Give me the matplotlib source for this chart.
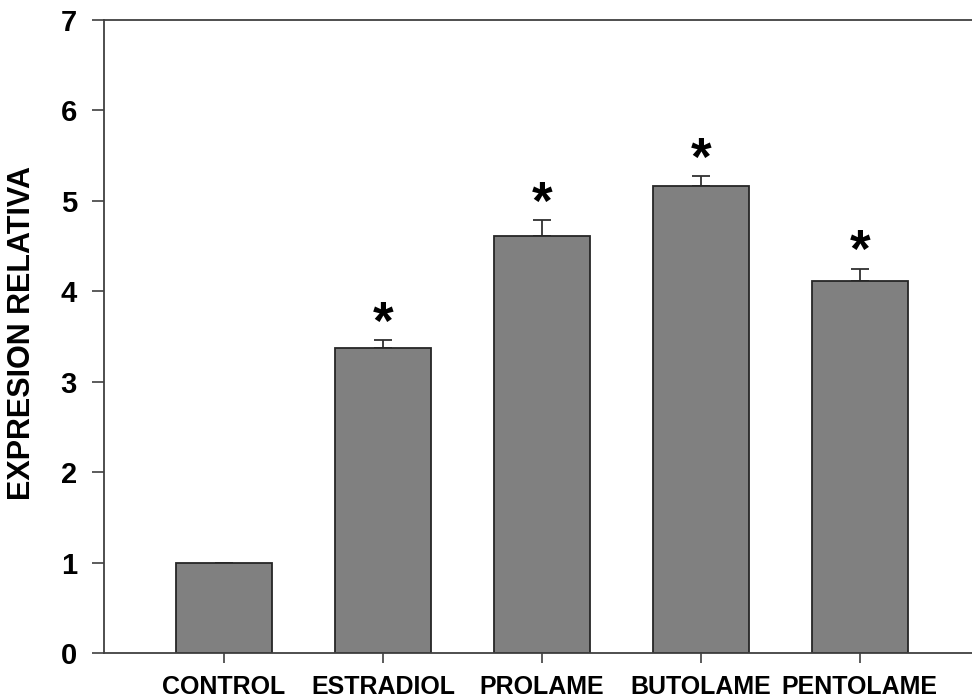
import matplotlib
matplotlib.use("Agg")
import matplotlib.pyplot as plt
import numpy as np

categories = ["CONTROL", "ESTRADIOL", "PROLAME", "BUTOLAME", "PENTOLAME"]
expression = [1.0, 3.37, 4.61, 5.16, 4.11]
sem = [0.0, 0.09, 0.18, 0.11, 0.14]
significant = [False, True, True, True, True]
y_ticks = [0, 1, 2, 3, 4, 5, 6, 7]

plt.rcParams["font.family"] = ["Liberation Sans", "DejaVu Sans"]
plt.rcParams["font.weight"] = "bold"

fig = plt.figure(figsize=(9.72, 7.0), dpi=100)
ax = fig.add_axes([0.107, 0.0671, 0.901, 0.9043])

x = np.arange(len(categories))
ax.bar(x, expression, width=0.604, color="#808080", edgecolor="#262626",
       linewidth=1.3, zorder=2)

err = np.array(sem, dtype=float)
err_masked = np.where(err > 0, err, np.nan)
ax.errorbar(x, expression, yerr=[np.zeros_like(err), err_masked], fmt="none",
            ecolor="#303030", elinewidth=1.3, capsize=6.5, capthick=1.3,
            zorder=1)

# significance marks sit just above each error-bar cap
for xi, val, e, sig in zip(x, expression, sem, significant):
    if sig:
        ax.annotate("*", xy=(xi, val + e), xytext=(0, 1), textcoords="offset points",
                    ha="center", va="baseline", fontsize=38, fontweight="bold",
                    color="black")

ax.set_xlim(-0.755, 4.755)
ax.set_ylim(0, 7)
ax.set_yticks(y_ticks)
ax.set_yticklabels([str(t) for t in y_ticks], fontsize=21, fontweight="bold")
ax.set_xticks(x)
ax.set_xticklabels(categories, fontsize=18, fontweight="bold")
ax.tick_params(axis="y", direction="out", length=9, width=1.2, color="#404040", pad=10.5)
ax.tick_params(axis="x", direction="out", length=7, width=1.2, color="#404040", pad=8.5)

for side in ["left", "bottom", "top"]:
    ax.spines[side].set_color("#404040")
    ax.spines[side].set_linewidth(1.3)
ax.spines["right"].set_visible(False)

ax.set_ylabel("EXPRESION RELATIVA", fontsize=22, fontweight="bold")
ax.yaxis.set_label_coords(-0.0765, 0.506)

fig.savefig("out.png", dpi=100)
